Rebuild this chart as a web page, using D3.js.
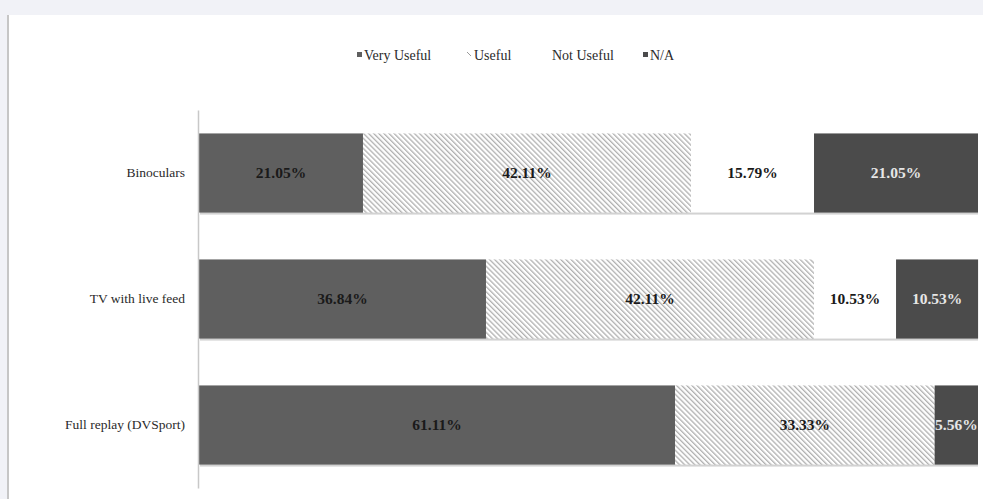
<!DOCTYPE html>
<html>
<head>
<meta charset="utf-8">
<script src="https://cdn.jsdelivr.net/npm/d3@7"></script>
<style>
  html, body { margin: 0; padding: 0; background: #ffffff; }
  svg { display: block; }
  text { font-family: "Liberation Serif", "DejaVu Serif", serif; }
</style>
</head>
<body>
<script>
// Survey responses: usefulness of each viewing aid (percent of respondents)
const categories = ["Binoculars", "TV with live feed", "Full replay (DVSport)"];
const seriesNames = ["Very Useful", "Useful", "Not Useful", "N/A"];
const veryUseful = [21.05, 36.84, 61.11];
const useful     = [42.11, 42.11, 33.33];
const notUseful  = [15.79, 10.53, 0];
const notApplic  = [21.05, 10.53, 5.56];
const xTicks = [0, 100];

const W = 983, H = 499;
const svg = d3.select("body").append("svg").attr("width", W).attr("height", H);

// Fine diagonal hatch used for the "Useful" series
const defs = svg.append("defs");
const pat = defs.append("pattern")
  .attr("id", "hatch").attr("patternUnits", "userSpaceOnUse")
  .attr("width", 3.6).attr("height", 3.6)
  .attr("patternTransform", "rotate(-45)");
pat.append("rect").attr("width", 3.6).attr("height", 3.6).attr("fill", "#ffffff");
pat.append("rect").attr("x", 0).attr("y", 0).attr("width", 1.3).attr("height", 3.6).attr("fill", "#b0b0b0");

// Page frame: pale strips along the top and left with a thin rule
svg.append("rect").attr("x", 0).attr("y", 0).attr("width", W).attr("height", 15).attr("fill", "#f1f2f7");
svg.append("rect").attr("x", 0).attr("y", 0).attr("width", 7).attr("height", H).attr("fill", "#f1f2f7");
svg.append("rect").attr("x", 7).attr("y", 15).attr("width", 2).attr("height", H - 15).attr("fill", "#c6c6c6");

const fills = ["#5f5f5f", "url(#hatch)", "#ffffff", "#4b4b4b"];
const labelColors = ["#1a1a1a", "#1a1a1a", "#1a1a1a", "#e6e6e6"];

const x = d3.scaleLinear().domain(d3.extent(xTicks)).range([199, 978]);
const y = d3.scaleBand().domain(categories).range([110, 488])
  .paddingInner(0.372).paddingOuter(0.186);

const rows = categories.map((c, i) => {
  const vals = [veryUseful[i], useful[i], notUseful[i], notApplic[i]];
  let acc = 0;
  return { cat: c, segs: vals.map((v, k) => { const s = { k, v, x0: acc, x1: acc + v }; acc += v; return s; }) };
});

// Soft shadow beneath each bar row
svg.append("g").selectAll("rect").data(rows).join("rect")
  .attr("x", x(0) + 1).attr("y", d => y(d.cat) + 2)
  .attr("width", x(100) - x(0) - 1).attr("height", y.bandwidth())
  .attr("fill", "#d2d2d2");

const rowG = svg.append("g").selectAll("g").data(rows).join("g");
rowG.selectAll("rect").data(d => d.segs.filter(s => s.v > 0).map(s => ({ ...s, cat: d.cat })))
  .join("rect")
  .attr("x", d => x(d.x0)).attr("y", d => y(d.cat))
  .attr("width", d => x(d.x1) - x(d.x0)).attr("height", y.bandwidth())
  .attr("fill", d => fills[d.k]);

rowG.selectAll("text").data(d => d.segs.filter(s => s.v > 0).map(s => ({ ...s, cat: d.cat })))
  .join("text")
  .attr("x", d => (x(d.x0) + x(d.x1)) / 2)
  .attr("y", d => y(d.cat) + y.bandwidth() / 2)
  .attr("dy", "0.35em")
  .attr("text-anchor", "middle")
  .attr("font-size", 15.5).attr("font-weight", "bold")
  .attr("fill", d => labelColors[d.k])
  .text(d => d.v.toFixed(2) + "%");

// Category axis
const yAxis = svg.append("g").attr("transform", `translate(${x(0) - 1},0)`)
  .call(d3.axisLeft(y).tickSize(0).tickPadding(13));
yAxis.select(".domain").attr("stroke", "#c8c8c8").attr("stroke-width", 1.5);
yAxis.selectAll("text").attr("font-size", 13.5).attr("fill", "#2a2a2a")
  .style("font-family", '"Liberation Serif", serif');

// Legend
const legendX = [357, 467, 552, 643];
const lg = svg.append("g").selectAll("g").data(seriesNames).join("g")
  .attr("transform", (d, i) => `translate(${legendX[i]},60)`);
lg.append("rect").attr("x", 0).attr("y", -8).attr("width", 5).attr("height", 5)
  .attr("fill", (d, i) => i === 1 ? "none" : fills[i]);
lg.filter((d, i) => i === 1).append("line")
  .attr("x1", 0).attr("y1", -8).attr("x2", 4).attr("y2", -4)
  .attr("stroke", "#9a9a9a").attr("stroke-width", 1);
lg.append("text").attr("x", (d, i) => i === 2 ? 0 : 7).attr("y", 0)
  .attr("font-size", 14).attr("fill", "#2a2a2a").text(d => d);
</script>
</body>
</html>
